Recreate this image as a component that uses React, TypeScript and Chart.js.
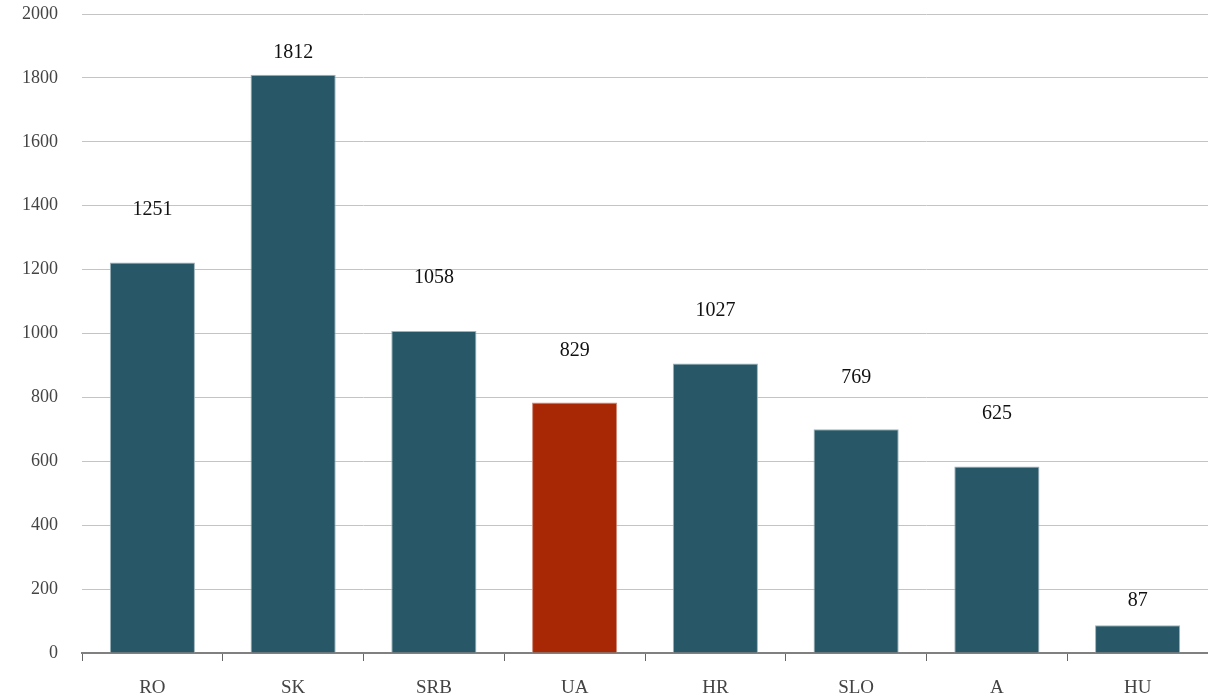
import React, { useEffect, useRef } from "react";
import { Chart, registerables } from "chart.js";

Chart.register(...registerables);

const categories = ["RO", "SK", "SRB", "UA", "HR", "SLO", "A", "HU"];
const barValues = [1222, 1810, 1008, 784, 906, 700, 584, 87];
const labelValues = ["1251", "1812", "1058", "829", "1027", "769", "625", "87"];
const yTicks = [0, 200, 400, 600, 800, 1000, 1200, 1400, 1600, 1800, 2000];

const TEAL = "#285868";
const RED = "#a82806";
const barColors = categories.map((c) => (c === "UA" ? RED : TEAL));
const borderColors = categories.map((c) => (c === "UA" ? "#d08a78" : "#9db3bc"));
const labelLift = [53, 22, 53, 52, 53, 52, 53, 24];

const FONT = "'Liberation Serif', 'Times New Roman', serif";

const valueLabels = {
  id: "valueLabels",
  afterDatasetsDraw(chart: any) {
    const ctx = chart.ctx;
    const meta = chart.getDatasetMeta(0);
    ctx.save();
    ctx.font = `20px ${FONT}`;
    ctx.fillStyle = "#111111";
    ctx.textAlign = "center";
    ctx.textBaseline = "middle";
    meta.data.forEach((bar: any, i: number) => {
      ctx.fillText(labelValues[i], bar.x, bar.y - labelLift[i]);
    });
    ctx.restore();
  },
};

export default function App() {
  const ref = useRef<HTMLCanvasElement>(null);
  useEffect(() => {
    if (!ref.current) return;
    const chart = new Chart(ref.current, {
      type: "bar",
      data: {
        labels: categories,
        datasets: [
          {
            data: barValues,
            backgroundColor: barColors,
            borderColor: borderColors,
            borderWidth: 1,
            categoryPercentage: 1,
            barPercentage: 0.605,
          },
        ],
      },
      options: {
        responsive: false,
        animation: false,
        devicePixelRatio: 1,
        layout: { padding: { top: 14, right: 0, left: 0, bottom: 0 } },
        plugins: {
          legend: { display: false },
          tooltip: { enabled: false },
          title: { display: false },
        },
        scales: {
          x: {
            type: "category",
            offset: true,
            grid: {
              offset: true,
              drawOnChartArea: false,
              drawTicks: true,
              tickLength: 8,
              color: "#666666",
              lineWidth: 1,
            },
            border: { display: true, color: "#808080", width: 2 },
            ticks: {
              color: "#444444",
              font: { family: FONT, size: 19 },
              padding: 16,
            },
            afterFit(scale: any) {
              scale.height = 44;
              scale.paddingLeft = 0;
              scale.paddingRight = 0;
            },
          },
          y: {
            min: 0,
            max: 2000,
            afterBuildTicks(scale: any) {
              scale.ticks = yTicks.map((v) => ({ value: v }));
            },
            grid: {
              drawTicks: false,
              color: "#c4c4c4",
              lineWidth: 1,
            },
            border: { display: false },
            ticks: {
              color: "#444444",
              font: { family: FONT, size: 18 },
              padding: 24,
              callback: (v: any) => String(v),
            },
            afterFit(scale: any) {
              scale.width = 82;
              scale.paddingTop = 0;
              scale.paddingBottom = 0;
            },
          },
        },
      },
      plugins: [valueLabels],
    });
    return () => chart.destroy();
  }, []);
  return (
    <div style={{ position: "absolute", left: 0, top: 0, width: 1208, height: 697 }}>
      <canvas ref={ref} width={1208} height={697} style={{ display: "block" }} />
    </div>
  );
}
